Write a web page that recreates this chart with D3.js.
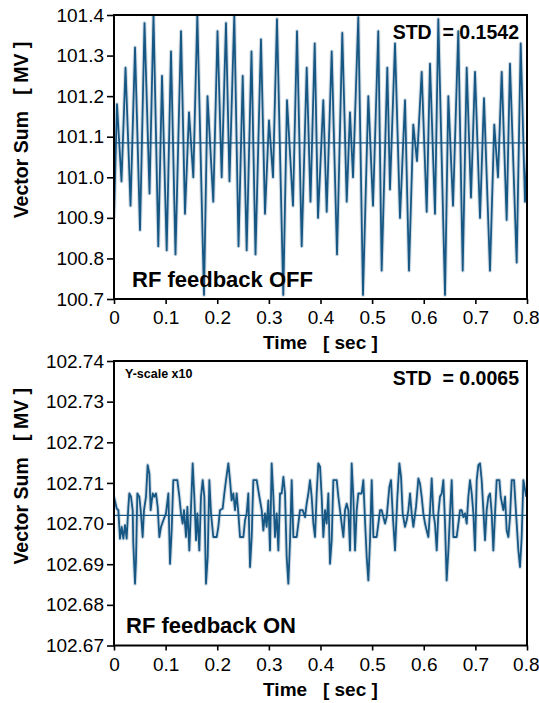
<!DOCTYPE html>
<html>
<head>
<meta charset="utf-8">
<script src="https://cdn.jsdelivr.net/npm/d3@7"></script>
<style>
  html, body { margin: 0; padding: 0; background: #fff; }
  svg { display: block; font-family: "Liberation Sans", Arial, sans-serif; }
</style>
</head>
<body>
<svg id="chart" width="539" height="703"></svg>
<script>
// ==========================
// DATA
// ==========================

const timeTicks = [0, 0.1, 0.2, 0.3, 0.4, 0.5, 0.6, 0.7, 0.8];
const offTicks = [100.7, 100.8, 100.9, 101.0, 101.1, 101.2, 101.3, 101.4];
const onTicks = [102.67, 102.68, 102.69, 102.70, 102.71, 102.72, 102.73, 102.74];

// RF feedback OFF — vector sum [MV] vs time [s]
const offTime = [
  0.0000, 0.0058, 0.0145, 0.0223, 0.0320, 0.0407, 0.0504, 0.0591, 0.0688, 0.0765,
  0.0858, 0.0930, 0.1021, 0.1104, 0.1191, 0.1298, 0.1375, 0.1453, 0.1536, 0.1614,
  0.1743, 0.1811, 0.1923, 0.2005, 0.2086, 0.2169, 0.2237, 0.2330, 0.2412, 0.2493,
  0.2570, 0.2663, 0.2741, 0.2847, 0.2925, 0.3002, 0.3080, 0.3157, 0.3279, 0.3351,
  0.3467, 0.3545, 0.3636, 0.3733, 0.3806, 0.3888, 0.3952, 0.4054, 0.4120, 0.4217,
  0.4320, 0.4422, 0.4508, 0.4571, 0.4630, 0.4732, 0.4823, 0.4926, 0.5017, 0.5119,
  0.5185, 0.5294, 0.5346, 0.5443, 0.5540, 0.5637, 0.5714, 0.5797, 0.5869, 0.5960,
  0.6057, 0.6121, 0.6218, 0.6282, 0.6412, 0.6476, 0.6567, 0.6669, 0.6755, 0.6832,
  0.6915, 0.6993, 0.7090, 0.7167, 0.7283, 0.7366, 0.7438, 0.7510, 0.7606, 0.7670,
  0.7800, 0.7878, 0.7961, 0.8000
];
const offValue = [
  100.90, 101.18, 100.99, 101.27, 100.93, 101.32, 100.87, 101.38, 100.96, 101.40,
  100.83, 101.25, 100.82, 101.31, 100.81, 101.36, 100.91, 101.16, 101.00, 101.40,
  100.71, 101.20, 100.94, 101.36, 101.00, 101.38, 100.99, 101.40, 100.83, 101.25,
  100.82, 101.31, 100.81, 101.34, 100.91, 101.14, 101.00, 101.39, 100.71, 101.19,
  100.93, 101.36, 100.83, 101.27, 100.94, 101.33, 100.90, 101.19, 100.915, 101.31,
  100.81, 101.356, 100.94, 101.16, 101.00, 101.395, 100.71, 101.20, 100.93, 101.36,
  100.77, 101.27, 100.97, 101.33, 100.90, 101.19, 100.77, 101.13, 101.04, 101.26,
  100.915, 101.28, 100.91, 101.39, 100.71, 101.20, 100.93, 101.36, 100.77, 101.27,
  100.95, 101.26, 100.90, 101.195, 100.77, 101.13, 101.00, 101.26, 100.895, 101.28,
  100.79, 101.33, 100.94, 101.05
];
const offMean = 101.085;

// RF feedback ON — vector sum [MV] vs time [s]
const onTime = [
  0.0000, 0.0052, 0.0084, 0.0116, 0.0149, 0.0181, 0.0213, 0.0245, 0.0278, 0.0297,
  0.0329, 0.0362, 0.0374, 0.0407, 0.0426, 0.0452, 0.0491, 0.0517, 0.0555, 0.0581,
  0.0620, 0.0652, 0.0685, 0.0710, 0.0749, 0.0781, 0.0814, 0.0846, 0.0878, 0.0911,
  0.0956, 0.1007, 0.1053, 0.1085, 0.1117, 0.1149, 0.1227, 0.1266, 0.1298, 0.1330,
  0.1356, 0.1395, 0.1421, 0.1459, 0.1485, 0.1524, 0.1556, 0.1589, 0.1614, 0.1653,
  0.1685, 0.1718, 0.1750, 0.1782, 0.1815, 0.1847, 0.1879, 0.1924, 0.1989, 0.2021,
  0.2053, 0.2105, 0.2137, 0.2170, 0.2215, 0.2247, 0.2279, 0.2312, 0.2344, 0.2376,
  0.2409, 0.2441, 0.2506, 0.2538, 0.2570, 0.2602, 0.2635, 0.2667, 0.2699, 0.2764,
  0.2816, 0.2861, 0.2893, 0.2925, 0.2957, 0.2990, 0.3022, 0.3054, 0.3087, 0.3119,
  0.3151, 0.3184, 0.3216, 0.3248, 0.3281, 0.3313, 0.3345, 0.3377, 0.3410, 0.3442,
  0.3474, 0.3539, 0.3571, 0.3603, 0.3655, 0.3700, 0.3732, 0.3765, 0.3797, 0.3829,
  0.3862, 0.3894, 0.3926, 0.3958, 0.3991, 0.4023, 0.4055, 0.4088, 0.4120, 0.4152,
  0.4184, 0.4217, 0.4249, 0.4314, 0.4346, 0.4378, 0.4410, 0.4443, 0.4475, 0.4507,
  0.4540, 0.4572, 0.4604, 0.4636, 0.4669, 0.4701, 0.4733, 0.4798, 0.4830, 0.4862,
  0.4895, 0.4927, 0.4959, 0.4992, 0.5024, 0.5088, 0.5121, 0.5153, 0.5185, 0.5218,
  0.5250, 0.5282, 0.5334, 0.5366, 0.5398, 0.5444, 0.5489, 0.5528, 0.5560, 0.5592,
  0.5637, 0.5670, 0.5702, 0.5734, 0.5766, 0.5799, 0.5850, 0.5896, 0.5928, 0.5960,
  0.5992, 0.6025, 0.6057, 0.6089, 0.6122, 0.6154, 0.6186, 0.6218, 0.6251, 0.6283,
  0.6315, 0.6348, 0.6380, 0.6412, 0.6444, 0.6477, 0.6509, 0.6541, 0.6574, 0.6638,
  0.6671, 0.6703, 0.6735, 0.6767, 0.6800, 0.6832, 0.6864, 0.6896, 0.6929, 0.6961,
  0.6993, 0.7026, 0.7058, 0.7090, 0.7122, 0.7155, 0.7187, 0.7219, 0.7252, 0.7284,
  0.7316, 0.7348, 0.7381, 0.7413, 0.7465, 0.7491, 0.7542, 0.7575, 0.7607, 0.7639,
  0.7671, 0.7704, 0.7749, 0.7788, 0.7833, 0.7865, 0.7897, 0.7930, 0.7985
];
const onValue = [
  102.7066, 102.7037, 102.7033, 102.6963, 102.6992, 102.6963, 102.6996, 102.6963, 102.7041, 102.7074,
  102.7066, 102.7033, 102.6951, 102.6852, 102.6909, 102.7074, 102.7066, 102.7033, 102.6967, 102.7033,
  102.7066, 102.7144, 102.7123, 102.7033, 102.7074, 102.7066, 102.7074, 102.7041, 102.6967, 102.6992,
  102.7008, 102.7025, 102.7074, 102.6901, 102.6983, 102.7107, 102.7107, 102.7066, 102.7025, 102.7000,
  102.7033, 102.6967, 102.7041, 102.6934, 102.7016, 102.7148, 102.7066, 102.6959, 102.7025, 102.6934,
  102.7066, 102.7107, 102.7066, 102.6852, 102.6918, 102.7107, 102.7025, 102.6967, 102.6967, 102.6992,
  102.7033, 102.7037, 102.7074, 102.7107, 102.7148, 102.7107, 102.7057, 102.7074, 102.7033, 102.7074,
  102.7025, 102.6967, 102.6967, 102.7008, 102.7025, 102.7074, 102.6893, 102.6967, 102.7107, 102.7107,
  102.7066, 102.7033, 102.6983, 102.7025, 102.6992, 102.7057, 102.6934, 102.7148, 102.7066, 102.6967,
  102.7025, 102.6934, 102.7074, 102.7074, 102.7115, 102.7074, 102.6918, 102.6852, 102.6959, 102.7107,
  102.6967, 102.6967, 102.7000, 102.7033, 102.7033, 102.7016, 102.7049, 102.7074, 102.7107, 102.7066,
  102.7000, 102.6967, 102.7074, 102.7148, 102.7140, 102.7066, 102.6967, 102.7033, 102.7000, 102.7074,
  102.6901, 102.6959, 102.7107, 102.7107, 102.7066, 102.7033, 102.7000, 102.6967, 102.7033, 102.7049,
  102.7033, 102.6934, 102.7148, 102.7066, 102.6934, 102.7033, 102.7074, 102.7074, 102.7107, 102.7008,
  102.6918, 102.6860, 102.6959, 102.7107, 102.6967, 102.6967, 102.7000, 102.7033, 102.7033, 102.7016,
  102.7000, 102.7016, 102.7090, 102.7107, 102.7025, 102.6934, 102.7066, 102.7148, 102.7115, 102.7025,
  102.6992, 102.7008, 102.7033, 102.7074, 102.7025, 102.6992, 102.7041, 102.7111, 102.7098, 102.7066,
  102.7025, 102.7000, 102.6983, 102.6967, 102.7033, 102.7111, 102.7025, 102.7000, 102.6934, 102.7025,
  102.7066, 102.7074, 102.7107, 102.7000, 102.6860, 102.6934, 102.7025, 102.7107, 102.6967, 102.6967,
  102.7000, 102.7033, 102.7033, 102.7016, 102.7025, 102.7000, 102.7066, 102.7107, 102.7074, 102.7025,
  102.6934, 102.7107, 102.7144, 102.7148, 102.7107, 102.7033, 102.6959, 102.7033, 102.7066, 102.7074,
  102.7025, 102.6934, 102.7025, 102.7107, 102.7107, 102.7066, 102.7033, 102.7066, 102.6983, 102.6967,
  102.7016, 102.7107, 102.7107, 102.7025, 102.6934, 102.6893, 102.6967, 102.7107, 102.7066
];
const onMean = 102.702;

// ==========================
// LAYOUT
// ==========================

const LINE_COLOR = '#175784';
const X_LEFT = 114, X_RIGHT = 527;

const svg = d3.select('#chart');

const x = d3.scaleLinear().domain([0, 0.8]).range([X_LEFT, X_RIGHT]);
const fmtTime = d3.format('~g');

function drawPanel(opts) {
    const { id, top, bottom, domain, ticks, tickFmt, time, values, mean, std, label, labelX, labelY, note } = opts;
    const y = d3.scaleLinear().domain(domain).range([bottom, top]);
    const g = svg.append('g').attr('class', `panel-${id}`);

    // clip so the spikes stop at the frame
    g.append('clipPath').attr('id', `clip-${id}`)
        .append('rect')
        .attr('x', X_LEFT).attr('y', top)
        .attr('width', X_RIGHT - X_LEFT).attr('height', bottom - top);

    const plot = g.append('g').attr('clip-path', `url(#clip-${id})`);
    const pts = d3.zip(time, values);
    const line = d3.line().x(d => x(d[0])).y(d => y(d[1]));

    // soft halo under the trace
    plot.append('path').datum(pts)
        .attr('d', line)
        .attr('fill', 'none')
        .attr('stroke', '#d3dde5')
        .attr('stroke-width', 4)
        .attr('stroke-linejoin', 'round');

    plot.append('path').datum(pts)
        .attr('d', line)
        .attr('fill', 'none')
        .attr('stroke', LINE_COLOR)
        .attr('stroke-width', 1.8)
        .attr('stroke-linejoin', 'round');

    // mean level
    plot.append('line')
        .attr('x1', X_LEFT).attr('x2', X_RIGHT)
        .attr('y1', y(mean)).attr('y2', y(mean))
        .attr('stroke', LINE_COLOR)
        .attr('stroke-width', 1.3);

    // axes
    const yAxis = d3.axisLeft(y).tickValues(ticks).tickFormat(tickFmt)
        .tickSize(7).tickSizeOuter(0).tickPadding(3);
    const xAxis = d3.axisBottom(x).tickValues(timeTicks).tickFormat(fmtTime)
        .tickSize(5).tickSizeOuter(0).tickPadding(7);

    const ya = g.append('g').attr('transform', `translate(${X_LEFT},0)`).call(yAxis);
    const xa = g.append('g').attr('transform', `translate(0,${bottom})`).call(xAxis);
    [ya, xa].forEach(a => {
        a.select('.domain').remove();
        a.selectAll('.tick line').attr('stroke', '#000').attr('stroke-width', 1.6);
        a.selectAll('.tick text')
            .attr('fill', '#000')
            .style('font-size', '19px')
            .style('font-family', '"Liberation Sans", Arial, sans-serif');
    });
    // last time label sits against the page edge
    xa.selectAll('.tick text').filter(d => d === 0.8)
        .attr('text-anchor', 'end').attr('x', 12);

    // frame
    g.append('rect')
        .attr('x', X_LEFT).attr('y', top)
        .attr('width', X_RIGHT - X_LEFT).attr('height', bottom - top)
        .attr('fill', 'none')
        .attr('stroke', '#000')
        .attr('stroke-width', 2);

    // titles
    g.append('text')
        .attr('transform', `translate(28,${(top + bottom) / 2 - 27}) rotate(-90)`)
        .attr('text-anchor', 'middle')
        .style('font-size', '19.5px').style('font-weight', 'bold')
        .style('white-space', 'pre')
        .text('Vector Sum   [ MV ]');

    g.append('text')
        .attr('x', (X_LEFT + X_RIGHT) / 2).attr('y', bottom + 50)
        .attr('text-anchor', 'middle')
        .style('font-size', '19px').style('font-weight', 'bold')
        .style('white-space', 'pre')
        .text('Time   [ sec ]');

    g.append('text')
        .attr('x', 519).attr('y', top + 24)
        .attr('text-anchor', 'end')
        .style('font-size', '19.5px').style('font-weight', 'bold')
        .style('white-space', 'pre')
        .text(`STD  = ${std}`);

    g.append('text')
        .attr('x', labelX).attr('y', labelY)
        .style('font-size', '22px').style('font-weight', 'bold')
        .text(label);

    if (note) {
        g.append('text')
            .attr('x', 125).attr('y', top + 17)
            .style('font-size', '12.5px').style('font-weight', 'bold')
            .text(note);
    }
}

drawPanel({
    id: 'off', top: 15, bottom: 299,
    domain: [100.7, 101.4], ticks: offTicks, tickFmt: d3.format('.1f'),
    time: offTime, values: offValue, mean: offMean, std: '0.1542',
    label: 'RF feedback OFF', labelX: 132, labelY: 287
});

drawPanel({
    id: 'on', top: 361, bottom: 645.5,
    domain: [102.67, 102.74], ticks: onTicks, tickFmt: d3.format('.2f'),
    time: onTime, values: onValue, mean: onMean, std: '0.0065',
    label: 'RF feedback ON', labelX: 126, labelY: 633, note: 'Y-scale x10'
});
</script>
</body>
</html>
